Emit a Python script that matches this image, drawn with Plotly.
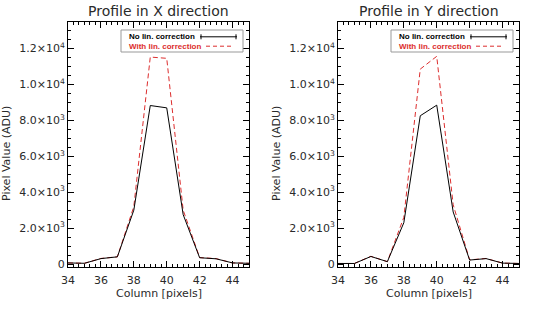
import plotly.graph_objects as go

columns = [34, 35, 36, 37, 38, 39, 40, 41, 42, 43, 44, 45]
x_no_corr = [60, 40, 300, 400, 3000, 8830, 8700, 2750, 350, 290, 60, 40]
x_with_corr = [60, 40, 310, 400, 3200, 11530, 11460, 3000, 360, 300, 60, 40]
y_no_corr = [30, 30, 420, 130, 2300, 8260, 8850, 2900, 220, 300, 50, 30]
y_with_corr = [30, 30, 430, 130, 2600, 10860, 11570, 3300, 230, 310, 50, 30]

titles = ["Profile in X direction", "Profile in Y direction"]
xtickvals = [34, 36, 38, 40, 42, 44]
ytickvals = [0, 2000, 4000, 6000, 8000, 10000, 12000]
yticktext = ["0", "2.0×10<sup>3</sup>", "4.0×10<sup>3</sup>", "6.0×10<sup>3</sup>",
             "8.0×10<sup>3</sup>", "1.0×10<sup>4</sup>", "1.2×10<sup>4</sup>"]
legend_labels = ["No lin. correction", "With lin. correction"]
xlabel = "Column [pixels]"
ylabel = "Pixel Value (ADU)"

W, H = 540, 311
RED = "#dc2d2d"
FONT = "DejaVu Sans"
LFONT = "Liberation Sans"
TXT = "#2a2a2a"


def px(x):
    return x / W


def py(y):
    return 1 - y / H


fig = go.Figure()
panels = [(x_no_corr, x_with_corr), (y_no_corr, y_with_corr)]
xdomains = [[px(68), px(249)], [px(338), px(519)]]
ydomain = [py(266.7), py(21.7)]

for i, (nc, wc) in enumerate(panels):
    xa = "x" if i == 0 else "x2"
    ya = "y" if i == 0 else "y2"
    fig.add_trace(go.Scatter(x=columns, y=wc, mode="lines", xaxis=xa, yaxis=ya,
                             line=dict(color=RED, width=1, dash="5px,3px"), showlegend=False))
    fig.add_trace(go.Scatter(x=columns, y=nc, mode="lines", xaxis=xa, yaxis=ya,
                             line=dict(color="black", width=1), showlegend=False))

axis_common = dict(showgrid=False, zeroline=False, showline=True, linecolor="black",
                   linewidth=1, mirror="allticks", ticks="inside", tickcolor="black",
                   automargin=False, tickfont=dict(family=FONT, size=11, color=TXT))
for i in range(2):
    sx = "" if i == 0 else "2"
    fig.layout["xaxis" + sx] = go.layout.XAxis(
        domain=xdomains[i], range=[34, 45], anchor="y" + sx, tickvals=xtickvals,
        ticklen=6, ticklabelstandoff=3,
        minor=dict(dtick=1/3, tick0=34, ticks="inside", ticklen=3, tickcolor="black"),
        **axis_common)
    fig.layout["yaxis" + sx] = go.layout.YAxis(
        domain=ydomain, range=[-150, 13500], anchor="x" + sx, tickvals=ytickvals,
        ticktext=yticktext, ticklen=6,
        minor=dict(dtick=500, tick0=0, ticks="inside", ticklen=3, tickcolor="black"),
        **axis_common)

annotations = []
shapes = []
L1, L2 = 36.8, 46.2
for i in range(2):
    off = 270 * i
    cx = (xdomains[i][0] + xdomains[i][1]) / 2
    annotations.append(dict(text=titles[i], x=cx, y=py(11), xref="paper", yref="paper",
                            showarrow=False, xanchor="center", yanchor="middle",
                            font=dict(family=FONT, size=14, color=TXT)))
    annotations.append(dict(text=xlabel, x=cx, y=py(293), xref="paper", yref="paper",
                            showarrow=False, xanchor="center", yanchor="middle",
                            font=dict(family=FONT, size=11, color=TXT)))
    annotations.append(dict(text=ylabel, x=px(7 + off), y=py(154), xref="paper", yref="paper",
                            showarrow=False, xanchor="center", yanchor="middle", textangle=-90,
                            font=dict(family=FONT, size=11, color=TXT)))
    # legend box
    shapes.append(dict(type="rect", xref="paper", yref="paper",
                       x0=px(121 + off), x1=px(243 + off), y0=py(52), y1=py(30),
                       line=dict(color="#999", width=1), fillcolor="white", layer="above"))
    annotations.append(dict(
        text="<b>" + legend_labels[0] + "</b><br><span style='color:" + RED + "'><b>"
             + legend_labels[1] + "</b></span>",
        x=px(128 + off), y=py((L1 + L2) / 2), xref="paper", yref="paper", showarrow=False,
        xanchor="left", yanchor="middle", align="left", borderpad=0,
        font=dict(family=LFONT, size=8, color="black")))
    shapes.append(dict(type="line", xref="paper", yref="paper", x0=px(200 + off), x1=px(237 + off),
                       y0=py(L1), y1=py(L1), line=dict(color="black", width=1), layer="above"))
    for xx in (201 + off, 236 + off):
        shapes.append(dict(type="line", xref="paper", yref="paper", x0=px(xx), x1=px(xx),
                           y0=py(L1 - 2.5), y1=py(L1 + 2.5), line=dict(color="black", width=1),
                           layer="above"))
    shapes.append(dict(type="line", xref="paper", yref="paper", x0=px(206 + off), x1=px(231 + off),
                       y0=py(L2), y1=py(L2), line=dict(color=RED, width=1, dash="4px,3px"),
                       layer="above"))

fig.update_layout(width=W, height=H, margin=dict(l=0, r=0, t=0, b=0),
                  paper_bgcolor="white", plot_bgcolor="white",
                  annotations=annotations, shapes=shapes, showlegend=False)

fig.write_html("out.html", config={"displayModeBar": False},
               post_script="document.body.style.margin='0';document.body.style.padding='0';"
                           "document.documentElement.style.overflow='hidden';")
